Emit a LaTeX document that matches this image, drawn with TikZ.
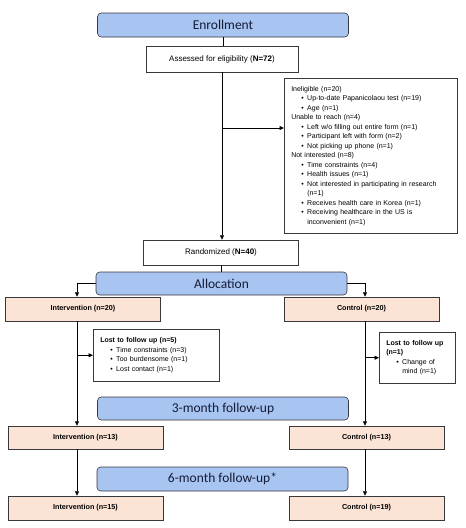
\documentclass[tikz,border=0pt]{standalone}
\usepackage{fontspec}
\setmainfont{Liberation Sans}
\newfontfamily\headfont{Carlito}
\usetikzlibrary{positioning, calc, arrows.meta}
\definecolor{PhaseColor}{RGB}{168,196,240}
\definecolor{ArmColor}{RGB}{251,228,214}
\definecolor{EdgeColor}{RGB}{55,55,60}
\definecolor{HeadText}{RGB}{20,28,55}
% bullet line with hanging indent
\newcommand{\bitem}[1]{\par\hangindent=16pt\hangafter=1\hspace*{10pt}\makebox[6pt][l]{\textbullet}#1}
\tikzset{
    phase/.style={
        rectangle,
        rounded corners=1.3mm,
        draw=EdgeColor,
        fill=PhaseColor,
        line width=0.6pt,
        minimum width=251pt,
        minimum height=24pt,
        text=HeadText,
        font=\headfont\fontsize{13.5}{15}\selectfont
    },
    box/.style={rectangle, draw=EdgeColor, fill=white, line width=0.5pt, font=\fontsize{8}{10}\selectfont},
    arm/.style={box, fill=ArmColor, minimum width=155pt, minimum height=24pt, font=\bfseries\fontsize{7.2}{9}\selectfont},
    note/.style={box, anchor=north west, align=left, inner xsep=7pt, font=\fontsize{7}{9.5}\selectfont},
    link/.style={draw=black, line width=0.6pt},
    flow/.style={link, -{Triangle[length=4.5pt, width=4pt]}}
}

\begin{document}
\begin{tikzpicture}[x=1pt, y=-1pt]

\useasboundingbox[fill=white] (0,0) rectangle (466,528);

% Enrollment
\node[phase] (enroll) at (223,25) {Enrollment};
\node[box, minimum width=152pt, minimum height=26pt] (assess) at (222,59) {Assessed for eligibility (\textbf{N=72})};

\node[note, minimum width=173pt, minimum height=155pt, text width=159pt] (excl) at (284,78) {%
Ineligible (n=20)
\bitem{Up-to-date Papanicolaou test (n=19)}
\bitem{Age (n=1)}
\par Unable to reach (n=4)
\bitem{Left w/o filling out entire form (n=1)}
\bitem{Participant left with form (n=2)}
\bitem{Not picking up phone (n=1)}
\par Not interested (n=8)
\bitem{Time constraints (n=4)}
\bitem{Health issues (n=1)}
\bitem{Not interested in participating in research\newline (n=1)}
\bitem{Receives health care in Korea (n=1)}
\bitem{Receiving healthcare in the US is\newline inconvenient (n=1)}\par};

\node[box, minimum width=155pt, minimum height=25pt] (rand) at (221,252.5) {Randomized (\textbf{N=40})};

% Allocation
\node[phase, minimum height=23pt] (alloc) at (221.5,283.5) {Allocation};
\node[arm] (int0) at (83,309) {Intervention (n=20)};
\node[arm] (ctl0) at (361.5,309) {Control (n=20)};

\node[note, minimum width=126pt, minimum height=52pt, text width=112pt] (lostI) at (93,329) {%
\textbf{Lost to follow up (n=5)}
\bitem{Time constraints (n=3)}
\bitem{Too burdensome (n=1)}
\bitem{Lost contact (n=1)}\par};

\node[note, minimum width=76pt, minimum height=51pt, text width=62pt] (lostC) at (379,332) {%
\textbf{Lost to follow up\newline (n=1)}
\bitem{Change of\newline mind (n=1)}\par};

% 3-month follow-up
\node[phase, minimum height=23pt] (fu3) at (223,408.5) {3-month follow-up};
\node[arm, minimum height=23pt] (int3) at (85.5,437.5) {Intervention (n=13)};
\node[arm, minimum height=23pt] (ctl3) at (366.5,437.5) {Control (n=13)};

% 6-month follow-up
\node[phase] (fu6) at (222.5,479) {6-month follow-up*};
\node[arm] (int6) at (85.5,508) {Intervention (n=15)};
\node[arm] (ctl6) at (366.5,508) {Control (n=19)};

% Connectors
\coordinate (branch) at (222,128);
\coordinate (lcol) at (77,0);
\coordinate (rcol) at (365,0);

\draw[link] (enroll.south) -- (enroll.south |- assess.north);
\draw[flow] (assess.south) -- (assess.south |- rand.north);
\draw[flow] (branch) -- (branch -| excl.west);
\draw[link] (rand.south) -- (rand.south |- alloc.north);

\draw[flow] (alloc.west) -| (lcol |- int0.north);
\draw[flow] (alloc.east) -| (rcol |- ctl0.north);

\draw[flow] (lcol |- int0.south) -- (lcol |- int3.north);
\draw[flow] (lcol |- lostI.west) -- (lostI.west);
\draw[flow] (rcol |- ctl0.south) -- (rcol |- ctl3.north);
\draw[flow] (rcol |- lostC.west) -- (lostC.west);

\draw[flow] (lcol |- int3.south) -- (lcol |- int6.north);
\draw[flow] (rcol |- ctl3.south) -- (rcol |- ctl6.north);

\end{tikzpicture}
\end{document}
